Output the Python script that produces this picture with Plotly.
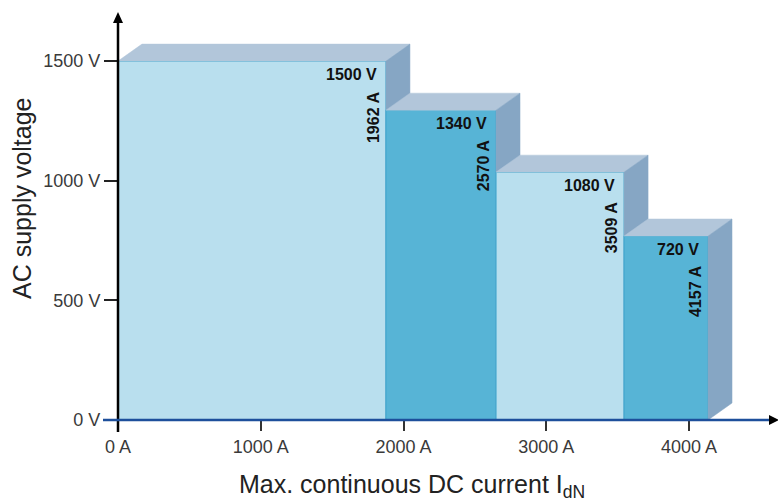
import plotly.graph_objects as go

# ---- data ----
current_edges = [1877, 2648, 3545, 4133]          # front right edge of each step (A, as drawn)
voltage_tops = [1500, 1295, 1036, 769]            # top of each step (V, as drawn)
voltage_labels = ["1500 V", "1340 V", "1080 V", "720 V"]
current_labels = ["1962 A", "2570 A", "3509 A", "4157 A"]
x_ticks = [0, 1000, 2000, 3000, 4000]
x_tick_labels = ["0 A", "1000 A", "2000 A", "3000 A", "4000 A"]
y_ticks = [0, 500, 1000, 1500]
y_tick_labels = ["0 V", "500 V", "1000 V", "1500 V"]

# ---- styling ----
FONT = "Liberation Sans, Arial, Helvetica, sans-serif"
front_colors = ["#b9dfee", "#57b4d6", "#b9dfee", "#57b4d6"]
top_color = "#b2c6da"
side_color = "#86a6c4"
edge_color = "#3fa7cf"
DX, DY = 168, 71   # depth offset of the 3D faces in data units

X_MAX, Y_MAX = 4623, 1701
W, H = 778, 501
ML, MT, MB = 118, 13, 81
PW, PH = W - ML, H - MT - MB

fig = go.Figure()
x0 = 0
for i, (x1, h) in enumerate(zip(current_edges, voltage_tops)):
    # front face
    fig.add_trace(go.Scatter(x=[x0, x1, x1, x0, x0], y=[0, 0, h, h, 0], fill="toself",
                             fillcolor=front_colors[i], mode="lines",
                             line=dict(color=edge_color, width=1), hoverinfo="skip", showlegend=False))
    # top face
    fig.add_trace(go.Scatter(x=[x0, x0 + DX, x1 + DX, x1, x0], y=[h, h + DY, h + DY, h, h], fill="toself",
                             fillcolor=top_color, mode="lines",
                             line=dict(color=top_color, width=0.5), hoverinfo="skip", showlegend=False))
    # side face
    fig.add_trace(go.Scatter(x=[x1, x1 + DX, x1 + DX, x1, x1], y=[0, DY, h + DY, h, 0], fill="toself",
                             fillcolor=side_color, mode="lines",
                             line=dict(color=side_color, width=0.5), hoverinfo="skip", showlegend=False))
    # labels
    fig.add_annotation(x=x1, y=h, xref="x", yref="y", text=voltage_labels[i], showarrow=False,
                       xanchor="right", yanchor="middle", xshift=-7, yshift=-13,
                       font=dict(family=FONT, size=16, color="#111111", weight="bold"))
    fig.add_annotation(x=x1, y=h, xref="x", yref="y", text=current_labels[i], showarrow=False,
                       textangle=-90, xanchor="center", yanchor="middle", xshift=-13, yshift=-56,
                       font=dict(family=FONT, size=16, color="#111111", weight="bold"))
    x0 = x1

# axis lines and arrow heads (paper coordinates)
px = lambda p: p / PW
py = lambda p: p / PH
shapes = [
    # y axis (black)
    dict(type="line", xref="paper", yref="paper", x0=0, x1=0, y0=-py(12), y1=1 - py(9),
         line=dict(color="#000000", width=2.5), layer="above"),
    dict(type="path", xref="paper", yref="paper",
         path=f"M {-px(5)} {1 - py(10)} L {px(5)} {1 - py(10)} L 0 {1 + py(1)} Z",
         fillcolor="#000000", line=dict(width=0), layer="above"),
    # x axis (dark blue)
    dict(type="line", xref="paper", yref="paper", x0=-px(15), x1=1 - px(8), y0=0, y1=0,
         line=dict(color="#1d4f9b", width=2.5), layer="above"),
    dict(type="path", xref="paper", yref="paper",
         path=f"M {1 - px(9)} {-py(5)} L {1 - px(9)} {py(5)} L {1 + px(1)} 0 Z",
         fillcolor="#000000", line=dict(width=0), layer="above"),
]

fig.add_annotation(xref="paper", yref="paper", x=px(412 - ML), y=-py(486 - 420),
                   text="Max. continuous DC current I<sub>dN</sub>", showarrow=False,
                   xanchor="center", yanchor="middle", font=dict(family=FONT, size=25, color="#222222"))
fig.add_annotation(xref="paper", yref="paper", x=-px(ML - 22), y=py(420 - 198),
                   text="AC supply voltage", showarrow=False, textangle=-90,
                   xanchor="center", yanchor="middle", font=dict(family=FONT, size=25, color="#222222"))

fig.update_layout(
    width=W, height=H,
    margin=dict(l=ML, r=0, t=MT, b=MB, pad=0),
    plot_bgcolor="white", paper_bgcolor="white",
    shapes=shapes,
    xaxis=dict(range=[0, X_MAX], tickmode="array", tickvals=x_ticks, ticktext=x_tick_labels,
               ticks="outside", ticklen=10, tickwidth=1.5, tickcolor="#333333",
               showgrid=False, zeroline=False, showline=False, automargin=False,
               tickfont=dict(family=FONT, size=18, color="#3a3a3a"), fixedrange=True),
    yaxis=dict(range=[0, Y_MAX], tickmode="array", tickvals=y_ticks, ticktext=y_tick_labels,
               ticks="outside", ticklen=13, tickwidth=1.5, tickcolor="#222222",
               showgrid=False, zeroline=False, showline=False, automargin=False,
               tickfont=dict(family=FONT, size=18, color="#3a3a3a"), fixedrange=True),
)

fig.write_html("out.html", config={"displayModeBar": False},
               post_script="document.body.style.margin='0';")
